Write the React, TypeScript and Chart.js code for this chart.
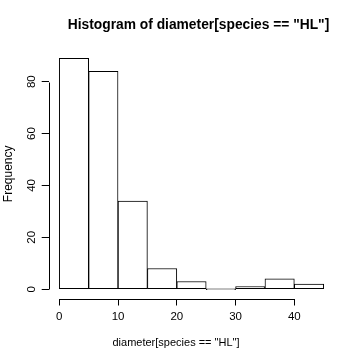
import React, { useEffect, useRef } from "react";
import { Chart, registerables } from "chart.js";

Chart.register(...registerables);

const binEdges = [0, 5, 10, 15, 20, 25, 30, 35, 40, 45];
const counts = [89, 84, 34, 8, 3, 0, 1, 4, 2];
const xTicks = [0, 10, 20, 30, 40];
const yTicks = [0, 20, 40, 60, 80];
const titleText = 'Histogram of diameter[species == "HL"]';
const xLabel = 'diameter[species == "HL"]';
const yLabel = "Frequency";

const FONT = "'Liberation Sans', Arial, Helvetica, sans-serif";

const rDecor = {
  id: "rDecor",
  afterDraw(chart: any) {
    const { ctx, chartArea, scales } = chart;
    const x = scales.x;
    const y = scales.y;
    ctx.save();
    ctx.strokeStyle = "#000";
    ctx.lineWidth = 1;
    ctx.beginPath();
    const ax = Math.round(chartArea.left) + 0.5;
    ctx.moveTo(ax, Math.round(y.getPixelForValue(yTicks[0])) + 0.5);
    ctx.lineTo(ax, Math.round(y.getPixelForValue(yTicks[yTicks.length - 1])) + 0.5);
    const ay = Math.round(chartArea.bottom) + 0.5;
    ctx.moveTo(Math.round(x.getPixelForValue(xTicks[0])) + 0.5, ay);
    ctx.lineTo(Math.round(x.getPixelForValue(xTicks[xTicks.length - 1])) + 0.5, ay);
    ctx.stroke();

    const midX = (chartArea.left + chartArea.right) / 2;
    ctx.fillStyle = "#000";
    ctx.textAlign = "center";
    ctx.textBaseline = "alphabetic";
    ctx.font = `bold 13.8px ${FONT}`;
    ctx.fillText(titleText, midX + 7, 28.5);
    ctx.font = `11px ${FONT}`;
    ctx.fillText(xLabel, midX - 15.5, 345.7);
    ctx.restore();
  },
};

export default function App() {
  const ref = useRef<HTMLCanvasElement>(null);
  useEffect(() => {
    const centers = counts.map((_, i) => (binEdges[i] + binEdges[i + 1]) / 2);
    const xMin = binEdges[0];
    const xMax = binEdges[binEdges.length - 1];
    const xPad = (xMax - xMin) * 0.04;
    const yMaxData = Math.max(...counts);
    const yPad = yMaxData * 0.04;
    const chart = new Chart(ref.current!, {
      type: "bar",
      data: {
        datasets: [
          {
            data: centers.map((c, i) => ({ x: c, y: counts[i] })),
            backgroundColor: "#ffffff",
            borderColor: "#000000",
            borderWidth: 1,
            borderSkipped: false,
            barPercentage: 1,
            categoryPercentage: 1,
            minBarLength: 1,
          } as any,
        ],
      },
      options: {
        animation: false,
        responsive: true,
        maintainAspectRatio: false,
        layout: { padding: { left: 0, right: 25.7, top: 49.1, bottom: 0 } },
        plugins: {
          legend: { display: false },
          tooltip: { enabled: false },
          title: { display: false },
        },
        scales: {
          x: {
            type: "linear",
            min: xMin - xPad,
            max: xMax + xPad,
            offset: false,
            afterBuildTicks: (s: any) => {
              s.ticks = xTicks.map((v) => ({ value: v }));
            },
            afterFit: (s: any) => {
              s.height = 360 - 298.5;
            },
            grid: {
              offset: false,
              drawOnChartArea: false,
              drawTicks: true,
              tickLength: 7,
              color: "#000",
              tickColor: "#000",
              lineWidth: 1,
            },
            border: { display: false },
            ticks: {
              color: "#000",
              font: { family: FONT, size: 11.5 },
              padding: 4,
              maxRotation: 0,
              minRotation: 0,
              autoSkip: false,
            },
            title: { display: false },
          },
          y: {
            type: "linear",
            min: -yPad,
            max: yMaxData + yPad,
            afterBuildTicks: (s: any) => {
              s.ticks = yTicks.map((v) => ({ value: v }));
            },
            afterFit: (s: any) => {
              s.width = 48.7;
            },
            grid: {
              drawOnChartArea: false,
              drawTicks: true,
              tickLength: 7,
              color: "#000",
              tickColor: "#000",
              lineWidth: 1,
            },
            border: { display: false },
            ticks: {
              color: "#000",
              font: { family: FONT, size: 11.5 },
              padding: 3,
              minRotation: 90,
              maxRotation: 90,
              crossAlign: "center",
              autoSkip: false,
            },
            title: {
              display: true,
              text: yLabel,
              color: "#000",
              font: { family: FONT, size: 12 },
              padding: { top: 1, bottom: 0 },
            },
          },
        },
      } as any,
      plugins: [rDecor],
    });
    return () => chart.destroy();
  }, []);
  return (
    <div style={{ position: "absolute", left: 0, top: 0, width: 360, height: 360, background: "#fff" }}>
      <canvas ref={ref} />
    </div>
  );
}
